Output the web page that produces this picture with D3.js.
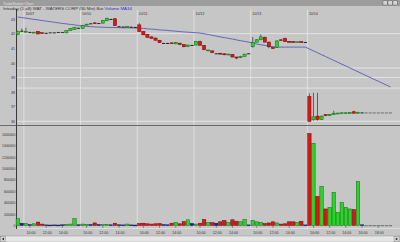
<!DOCTYPE html>
<html>
<head>
<meta charset="utf-8">
<script src="https://cdn.jsdelivr.net/npm/d3@7"></script>
<style>
  body { margin: 0; background: #c6c6c6; }
  svg { display: block; font-family: "Liberation Sans", sans-serif; }
</style>
</head>
<body>
<svg id="chart" width="400" height="242"></svg>
<script>
// Sessions and 30 min slots
let days = ["10/06", "10/07", "10/10", "10/11", "10/12", "10/13", "10/14"];
let slotTimes = ["09:30", "10:00", "10:30", "11:00", "11:30", "12:00", "12:30",
                 "13:00", "13:30", "14:00", "14:30", "15:00", "15:30", "16:00"];
let futureTimes = ["16:30", "17:00", "17:30", "18:00", "18:30", "19:00", "19:30"];
let timeTicks = ["10:00", "12:00", "14:00", "16:00", "18:00"];
let priceTicks = [36, 37, 38, 39, 40, 41, 42, 43];
let volumeTicks = [0, 200000, 400000, 600000, 800000, 1000000, 1200000, 1400000, 1600000];
let levelLines = [42, 39.65, 39, 38.27, 36];

// WAT bars (open, high, low, close, volume)
let opens = [41.95, 42.20,
  42.12, 42.10, 42.06, 42.15, 42.07, 42.05, 42.08, 42.08, 42.10, 42.10, 42.05, 42.20, 42.30, 42.40,
  42.35, 42.60, 42.70, 42.74, 42.72, 42.72, 42.88, 43.00, 43.02, 42.50, 42.48, 42.46, 42.47, 42.45,
  42.60, 42.15, 41.95, 41.78, 41.70, 41.55, 41.36, 41.36, 41.37, 41.30, 41.35, 41.25, 41.12, 41.22,
  41.22, 41.45, 41.20, 40.85, 40.82, 40.65, 40.66, 40.62, 40.55, 40.58, 40.40, 40.35, 40.45, 40.65,
  41.10, 41.42, 41.58, 41.75, 41.42, 41.05, 41.05, 41.58, 41.68, 41.47, 41.45, 41.40, 41.45, 41.42,
  37.70, 36.10, 36.35, 36.12, 36.45, 36.38, 36.45, 36.52, 36.53, 36.54, 36.55, 36.65, 36.55, 36.60,
  36.60, 36.60, 36.60, 36.60, 36.60, 36.60, 36.60];
let highs = [42.20, 42.35,
  42.40, 42.14, 42.12, 42.18, 42.09, 42.07, 42.10, 42.10, 42.12, 42.12, 42.22, 42.38, 42.45, 42.42,
  42.60, 42.68, 42.72, 42.77, 42.74, 42.92, 43.10, 43.03, 43.06, 42.53, 42.50, 42.50, 42.49, 42.47,
  42.72, 42.18, 41.97, 41.80, 41.72, 41.57, 41.38, 41.38, 41.39, 41.43, 41.37, 41.27, 41.25, 41.25,
  41.50, 41.52, 41.22, 40.90, 40.84, 40.67, 40.68, 40.64, 40.62, 40.60, 40.42, 40.48, 40.62, 40.67,
  41.77, 41.62, 41.95, 41.80, 41.45, 41.07, 41.55, 41.62, 41.72, 41.49, 41.47, 41.46, 41.47, 41.44,
  37.90, 37.95, 37.95, 36.40, 36.48, 36.50, 36.72, 36.58, 36.60, 36.60, 36.62, 36.72, 36.64, 36.62,
  36.60, 36.60, 36.60, 36.60, 36.60, 36.60, 36.60];
let lows = [41.90, 42.12,
  42.10, 42.06, 42.04, 41.96, 42.00, 42.03, 42.05, 42.06, 42.08, 42.07, 42.03, 42.18, 42.28, 42.38,
  42.33, 42.56, 42.66, 42.68, 42.70, 42.70, 42.86, 42.97, 42.52, 42.47, 42.46, 42.44, 42.45, 42.43,
  42.12, 41.90, 41.73, 41.66, 41.53, 41.36, 41.34, 41.34, 41.32, 41.28, 41.23, 41.07, 41.08, 41.20,
  41.20, 41.18, 40.86, 40.83, 40.68, 40.63, 40.58, 40.53, 40.53, 40.38, 40.25, 40.32, 40.43, 40.63,
  41.05, 41.40, 41.55, 41.40, 41.00, 40.96, 41.02, 41.52, 41.43, 41.40, 41.38, 41.38, 41.38, 41.40,
  35.95, 36.05, 36.05, 36.08, 36.35, 36.36, 36.43, 36.50, 36.51, 36.52, 36.53, 36.53, 36.53, 36.58,
  36.60, 36.60, 36.60, 36.60, 36.60, 36.60, 36.60];
let closes = [42.15, 42.20,
  42.16, 42.10, 42.10, 41.98, 42.03, 42.05, 42.08, 42.08, 42.10, 42.10, 42.20, 42.35, 42.42, 42.40,
  42.55, 42.65, 42.70, 42.70, 42.72, 42.90, 43.05, 43.00, 42.55, 42.50, 42.48, 42.48, 42.47, 42.45,
  42.15, 41.92, 41.75, 41.68, 41.55, 41.38, 41.36, 41.36, 41.34, 41.40, 41.25, 41.10, 41.22, 41.22,
  41.45, 41.20, 40.90, 40.88, 40.70, 40.65, 40.60, 40.55, 40.60, 40.40, 40.33, 40.45, 40.60, 40.65,
  41.40, 41.58, 41.78, 41.42, 41.10, 40.98, 41.50, 41.55, 41.45, 41.42, 41.40, 41.44, 41.40, 41.42,
  36.00, 36.30, 36.12, 36.35, 36.38, 36.47, 36.55, 36.56, 36.58, 36.58, 36.60, 36.55, 36.62, 36.60,
  36.60, 36.60, 36.60, 36.60, 36.60, 36.60, 36.60];
let volumes = [120000, 40000,
  35000, 15000, 30000, 60000, 25000, 10000, 8000, 10000, 8000, 12000, 20000, 25000, 120000, 12000,
  25000, 20000, 15000, 45000, 15000, 18000, 22000, 12000, 40000, 12000, 10000, 25000, 10000, 8000,
  35000, 40000, 30000, 25000, 30000, 35000, 15000, 12000, 40000, 55000, 30000, 70000, 100000, 35000,
  25000, 40000, 105000, 50000, 50000, 40000, 65000, 90000, 50000, 100000, 75000, 65000, 105000, 10000,
  90000, 65000, 55000, 35000, 45000, 65000, 45000, 25000, 30000, 65000, 65000, 55000, 75000, 10000,
  1610000, 1440000, 510000, 685000, 290000, 316000, 580000, 228000, 403000, 316000, 290000, 280000, 772000, 12000,
  3000, 3000, 3000, 3000, 3000, 3000, 3000];
// MA34
let ma34 = [43.14, 43.10,
  43.06, 43.02, 42.98, 42.94, 42.90, 42.86, 42.82, 42.78, 42.74, 42.70, 42.67, 42.63, 42.60, 42.56,
  42.52, 42.50, 42.48, 42.46, 42.45, 42.44, 42.43, 42.42, 42.42, 42.41, 42.40, 42.40, 42.39, 42.39,
  42.38, 42.36, 42.33, 42.31, 42.29, 42.26, 42.24, 42.22, 42.19, 42.17, 42.14, 42.12, 42.10, 42.08,
  42.06, 42.04, 41.99, 41.94, 41.89, 41.83, 41.78, 41.73, 41.68, 41.63, 41.57, 41.52, 41.47, 41.42,
  41.36, 41.29, 41.24, 41.19, 41.15, 41.11, 41.08, 41.08, 41.08, 41.08, 41.08, 41.08, 41.08, 41.08,
  40.95, 40.82, 40.69, 40.56, 40.43, 40.30, 40.17, 40.04, 39.91, 39.78, 39.65, 39.52, 39.39, 39.26,
  39.13, 39.00, 38.87, 38.74, 38.61, 38.48, 38.35];

// Bar keys: last two bars of 10/06, full sessions, then empty evening slots of 10/14
let keys = [];
["15:30", "16:00"].forEach(t => keys.push(days[0] + " " + t));
days.slice(1).forEach(d => slotTimes.forEach(t => keys.push(d + " " + t)));
futureTimes.forEach(t => keys.push(days[days.length - 1] + " " + t));

let bars = keys.map((k, i) => ({
  key: k, day: k.slice(0, 5), time: k.slice(6),
  o: opens[i], h: highs[i], l: lows[i], c: closes[i], v: volumes[i], ma: ma34[i],
  future: i >= keys.length - futureTimes.length
}));

let svg = d3.select("#chart");
let W = 400, H = 242;
let fs = 3.6;

let x = d3.scalePoint().domain(keys).range([17.8, 390.4]);
let step = x.step();
let yP = d3.scaleLinear().domain([35.88, 43.62]).range([123, 10]);
let yV = d3.scaleLinear().domain([0, 1700000]).range([225.5, 128.5]);

let green = "#2ed12e", greenDk = "#0b6b0b", red = "#d81818", redDk = "#6e0a0a", blue = "#1c1ca8";
let colorOf = d => d.c > d.o ? green : d.c < d.o ? red : blue;
let edgeOf = d => d.c > d.o ? greenDk : d.c < d.o ? redDk : "#10105a";

// Window title bar
svg.append("rect").attr("x", 0).attr("y", 0).attr("width", W).attr("height", 6).attr("fill", "#9c9c9c");
svg.append("text").attr("x", 3).attr("y", 4.6).attr("font-size", fs).attr("fill", "#e4e4e4")
  .text("TradeStation Chart");
[383, 388, 393].forEach(bx => {
  svg.append("rect").attr("x", bx).attr("y", 0.8).attr("width", 4.2).attr("height", 4.2)
    .attr("fill", "#d4d4d4").attr("stroke", "#555").attr("stroke-width", 0.4);
});

// Header line
let head = svg.append("text").attr("x", 3).attr("y", 10.4).attr("font-size", 4.4).attr("fill", "#333");
head.append("tspan").text("Intraday (1.a8)   WAT - WATERS CORP   (30 Min)   Bar   ");
head.append("tspan").attr("fill", "#2a2ad0").text("Volume  MA34");

// Horizontal level lines in the price pane
svg.selectAll(".lvl").data(levelLines).enter().append("line")
  .attr("x1", 17).attr("x2", W).attr("y1", d => yP(d)).attr("y2", d => yP(d))
  .attr("stroke", "#e6e6e6").attr("stroke-width", 0.9);

// Session separators and date labels
let dayStarts = bars.filter(b => b.time === "09:30");
svg.selectAll(".sep").data(dayStarts).enter().append("line")
  .attr("x1", d => x(d.key) - step / 2).attr("x2", d => x(d.key) - step / 2)
  .attr("y1", 10).attr("y2", 229)
  .attr("stroke", "#e2e2e2").attr("stroke-width", 0.9);
svg.selectAll(".dlab").data(dayStarts).enter().append("text")
  .attr("x", d => x(d.key) - step / 2 + 1.5).attr("y", 14.8)
  .attr("font-size", fs).attr("fill", "#333").text(d => d.day);

// Pane separator
svg.append("line").attr("x1", 0).attr("x2", W).attr("y1", 125.5).attr("y2", 125.5)
  .attr("stroke", "#6a6a6a").attr("stroke-width", 1);
svg.append("line").attr("x1", 17).attr("x2", W).attr("y1", 228.5).attr("y2", 228.5)
  .attr("stroke", "#e2e2e2").attr("stroke-width", 0.8);

// Axes
let pAxis = svg.append("g").attr("transform", "translate(16.5,0)")
  .call(d3.axisLeft(yP).tickValues(priceTicks).tickSize(0).tickPadding(1.5));
let vAxis = svg.append("g").attr("transform", "translate(16.5,0)")
  .call(d3.axisLeft(yV).tickValues(volumeTicks).tickSize(0).tickPadding(1.2).tickFormat(d3.format("d")));
[pAxis, vAxis].forEach(g => {
  g.select(".domain").remove();
  g.selectAll("text").attr("font-size", fs).attr("fill", "#333").attr("font-family", "Liberation Sans");
});
vAxis.selectAll("text").attr("font-size", 3.4);
svg.append("line").attr("x1", 16.5).attr("x2", 16.5).attr("y1", 9).attr("y2", 229)
  .attr("stroke", "#3a3a3a").attr("stroke-width", 1);

// MA34 line
svg.append("path").datum(bars)
  .attr("d", d3.line().x(d => x(d.key)).y(d => yP(d.ma)))
  .attr("fill", "none").attr("stroke", "#5a5ab4").attr("stroke-width", 0.9);

// Candles
let cw = 3.2;
let candle = svg.selectAll(".candle").data(bars).enter().append("g");
candle.append("line")
  .attr("x1", d => x(d.key)).attr("x2", d => x(d.key))
  .attr("y1", d => yP(d.h)).attr("y2", d => yP(d.l))
  .attr("stroke", d => d.future ? "#666" : "#1a1a1a").attr("stroke-width", 0.6);
candle.append("rect")
  .attr("x", d => x(d.key) - cw / 2)
  .attr("y", d => yP(Math.max(d.o, d.c)))
  .attr("width", cw)
  .attr("height", d => Math.max(0.9, Math.abs(yP(d.o) - yP(d.c))))
  .attr("fill", d => d.c === d.o ? (d.future ? "#666" : "#1a1a1a") : colorOf(d))
  .attr("stroke", d => d.c === d.o ? "none" : edgeOf(d))
  .attr("stroke-width", 0.5);

// Volume bars
let vw = 3.4;
svg.selectAll(".vol").data(bars).enter().append("rect")
  .attr("x", d => x(d.key) - vw / 2)
  .attr("y", d => yV(d.v))
  .attr("width", vw)
  .attr("height", d => Math.max(0.8, yV(0) - yV(d.v)))
  .attr("fill", d => d.future ? "#555" : colorOf(d))
  .attr("stroke", d => d.future ? "none" : edgeOf(d))
  .attr("stroke-width", 0.5);

// Time labels; drop those that would crowd the next one
let cands = bars.filter(b => timeTicks.includes(b.time));
let shown = cands.filter((b, i) => i === cands.length - 1 ||
  keys.indexOf(cands[i + 1].key) - keys.indexOf(b.key) >= 3);
svg.selectAll(".tlab").data(shown).enter().append("text")
  .attr("x", d => x(d.key) + 1).attr("y", 234.3)
  .attr("text-anchor", "middle").attr("font-size", fs).attr("fill", "#333")
  .text(d => d.time);
svg.selectAll(".tick2").data(shown).enter().append("line")
  .attr("x1", d => x(d.key)).attr("x2", d => x(d.key)).attr("y1", 226).attr("y2", 228)
  .attr("stroke", "#444").attr("stroke-width", 0.5);

// Scroll bar
svg.append("rect").attr("x", 0).attr("y", 236).attr("width", W).attr("height", 6)
  .attr("fill", "#e6e6e6").attr("stroke", "#9a9a9a").attr("stroke-width", 0.5);
svg.append("rect").attr("x", 0.5).attr("y", 236.5).attr("width", 5).attr("height", 5)
  .attr("fill", "#d4d4d4").attr("stroke", "#777").attr("stroke-width", 0.4);
svg.append("path").attr("d", "M1.8,239 L4,237.8 L4,240.2 Z").attr("fill", "#222");
svg.append("rect").attr("x", 394).attr("y", 236.5).attr("width", 5.5).attr("height", 5)
  .attr("fill", "#d4d4d4").attr("stroke", "#777").attr("stroke-width", 0.4);
svg.append("path").attr("d", "M395.8,237.8 L398,239 L395.8,240.2 Z").attr("fill", "#222");
</script>
</body>
</html>
